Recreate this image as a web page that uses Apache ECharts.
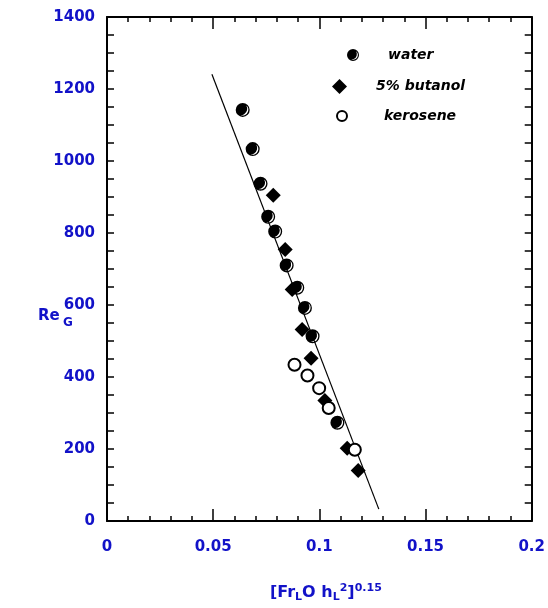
<!DOCTYPE html>
<html>
<head>
<meta charset="utf-8">
<script src="https://cdn.jsdelivr.net/npm/echarts@6/dist/echarts.min.js"></script>
<style>html,body{margin:0;padding:0;background:#fff}#c{width:548px;height:608px}</style>
</head>
<body>
<div id="c"></div>
<script>
// ---- data ----
const xTicks = [0, 0.05, 0.1, 0.15, 0.2];
const yTicks = [0, 200, 400, 600, 800, 1000, 1200, 1400];
const waterX = [0.0639, 0.0686, 0.0723, 0.0759, 0.0792, 0.0846, 0.0896, 0.0932, 0.0968, 0.1085];
const waterY = [1142, 1033, 937, 845, 804, 710, 648, 592, 513, 273];
const butanolX = [0.0783, 0.0839, 0.0872, 0.0919, 0.0961, 0.1026, 0.1131, 0.1183];
const butanolY = [905, 754, 643, 532, 452, 335, 202, 140];
const keroseneX = [0.0883, 0.0944, 0.0999, 0.1044, 0.1167];
const keroseneY = [434, 404, 369, 314, 198];
const fitX = [0.0494, 0.128];
const fitY = [1241, 33];
const seriesNames = ['water', '5% butanol', 'kerosene'];

const zip = (a, b) => a.map((v, i) => [v, b[i]]);
const blue = '#1212c8';
const font = 'DejaVu Sans';
// black ball with a white crescent highlight (hole via opposite winding)
const ball = 'path://M10,0 A10,10 0 1,1 10,20 A10,10 0 1,1 10,0 Z M15.14,3.87 A9,9 0 0,1 7.26,17.52 A8,8 0 0,0 15.14,3.87 Z';

const axisCommon = {
  axisLine: { show: true, onZero: false, lineStyle: { color: '#000', width: 2 } },
  splitLine: { show: false }
};

const chart = echarts.init(document.getElementById('c'), null, { renderer: 'canvas' });
chart.setOption({
  animation: false,
  backgroundColor: '#fff',
  grid: { left: 107, right: 16, top: 17, bottom: 87, containLabel: false },
  xAxis: [
    Object.assign({
      type: 'value', position: 'bottom', min: xTicks[0], max: xTicks[xTicks.length - 1], interval: 0.05,
      axisTick: { show: true, inside: true, length: 12, lineStyle: { color: '#000', width: 1.5 } },
      minorTick: { show: true, splitNumber: 5, length: 5, lineStyle: { color: '#000', width: 1.5 } },
      axisLabel: { color: blue, fontFamily: font, fontWeight: 'bold', fontSize: 15, margin: 19,
        formatter: v => String(+(+v).toFixed(2)) }
    }, axisCommon),
    Object.assign({
      type: 'value', position: 'top', min: xTicks[0], max: xTicks[xTicks.length - 1], interval: 0.05,
      axisTick: { show: true, inside: true, length: 12, lineStyle: { color: '#000', width: 1.5 } },
      minorTick: { show: true, splitNumber: 5, length: 5, lineStyle: { color: '#000', width: 1.5 } },
      axisLabel: { show: false }
    }, axisCommon)
  ],
  yAxis: [
    Object.assign({
      type: 'value', position: 'left', min: yTicks[0], max: yTicks[yTicks.length - 1], interval: 200,
      axisTick: { show: true, inside: true, length: 7, lineStyle: { color: '#000', width: 1.5 } },
      minorTick: { show: true, splitNumber: 4, length: 7, lineStyle: { color: '#000', width: 1.5 } },
      axisLabel: { color: blue, fontFamily: font, fontWeight: 'bold', fontSize: 15, margin: 12,
        formatter: v => String(Math.round(v)) }
    }, axisCommon),
    Object.assign({
      type: 'value', position: 'right', min: yTicks[0], max: yTicks[yTicks.length - 1], interval: 200,
      axisTick: { show: true, inside: true, length: 7, lineStyle: { color: '#000', width: 1.5 } },
      minorTick: { show: true, splitNumber: 4, length: 7, lineStyle: { color: '#000', width: 1.5 } },
      axisLabel: { show: false }
    }, axisCommon)
  ],
  legend: [
    { data: [{ name: seriesNames[0], icon: ball }], left: 347, top: 48, padding: 0, itemWidth: 12, itemHeight: 12,
      textStyle: { fontFamily: font, fontStyle: 'italic', fontWeight: 'bold', fontSize: 14, color: '#000', padding: [0, 0, 0, 24] } },
    { data: [seriesNames[1]], left: 332, top: 79, padding: 0, itemWidth: 15, itemHeight: 15,
      textStyle: { fontFamily: font, fontStyle: 'italic', fontWeight: 'bold', fontSize: 14, color: '#000', padding: [0, 0, 0, 24] } },
    { data: [seriesNames[2]], left: 336, top: 109, padding: 0, itemWidth: 10, itemHeight: 10,
      textStyle: { fontFamily: font, fontStyle: 'italic', fontWeight: 'bold', fontSize: 14, color: '#000', padding: [0, 0, 0, 32] } }
  ],
  series: [
    { name: 'fit', type: 'line', data: zip(fitX, fitY), showSymbol: false, symbol: 'none',
      lineStyle: { color: '#000', width: 1.2 }, z: 1, silent: true },
    { name: seriesNames[0], type: 'scatter', data: zip(waterX, waterY), symbol: ball, symbolSize: 14,
      itemStyle: { color: '#000', opacity: 1 }, z: 2 },
    { name: seriesNames[1], type: 'scatter', data: zip(butanolX, butanolY), symbol: 'diamond', symbolSize: 15,
      itemStyle: { color: '#000', opacity: 1 }, z: 3 },
    { name: seriesNames[2], type: 'scatter', data: zip(keroseneX, keroseneY), symbol: 'circle', symbolSize: 12,
      itemStyle: { color: '#fff', borderColor: '#000', borderWidth: 2, opacity: 1 }, z: 4 }
  ],
  graphic: [
    { type: 'text', left: 38, top: 309, style: {
      text: '{b|Re} {s|G}',
      rich: {
        b: { fontFamily: font, fontWeight: 'bold', fontSize: 15, fill: blue, verticalAlign: 'top' },
        s: { fontFamily: font, fontWeight: 'bold', fontSize: 12, fill: blue, padding: [8, 0, 0, 0] }
      } } },
    { type: 'text', left: 270, top: 583, style: {
      text: '{b|[Fr}{sub|L}{b|O h}{sub|L}{sup|2}{b|]}{sup|0.15}',
      rich: {
        b: { fontFamily: font, fontWeight: 'bold', fontSize: 16, fill: blue },
        sub: { fontFamily: font, fontWeight: 'bold', fontSize: 11, fill: blue, padding: [9, 0, 0, 0] },
        sup: { fontFamily: font, fontWeight: 'bold', fontSize: 11, fill: blue, padding: [0, 0, 9, 0] }
      } } }
  ]
});
</script>
</body>
</html>
